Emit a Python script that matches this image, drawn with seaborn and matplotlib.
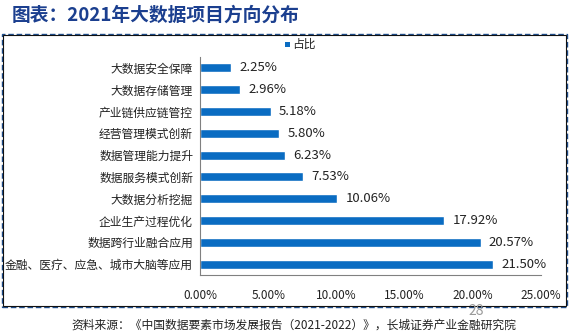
import matplotlib
matplotlib.use("Agg")
import matplotlib.pyplot as plt
import seaborn as sns
import pandas as pd
from matplotlib.patches import Rectangle
from matplotlib.ticker import FuncFormatter, MultipleLocator, FixedLocator

categories = ["大数据安全保障", "大数据存储管理", "产业链供应链管控", "经营管理模式创新",
              "数据管理能力提升", "数据服务模式创新", "大数据分析挖掘", "企业生产过程优化",
              "数据跨行业融合应用", "金融、医疗、应急、城市大脑等应用"]
values = [2.25, 2.96, 5.18, 5.80, 6.23, 7.53, 10.06, 17.92, 20.57, 21.50]
series_name = "占比"
title = "图表：2021年大数据项目方向分布"
source = "资料来源：《中国数据要素市场发展报告（2021-2022）》，长城证券产业金融研究院"
page = "28"

sns.set_theme(style="white")
plt.rcParams['font.family'] = ['Noto Sans CJK SC', 'DejaVu Sans']

df = pd.DataFrame({"cat": categories, "val": values, "s": series_name})

fig = plt.figure(figsize=(5.75, 3.35), dpi=100)
fig.patch.set_facecolor("white")
ax = fig.add_axes([200/575, 60/335, 341/575, 218/335])

bar_color = "#0A6CC2"
sns.barplot(data=df, y="cat", x="val", hue="s", palette=[bar_color], orient="h",
            width=0.42, saturation=1, ax=ax, legend=False)

ax.set_xlim(0, 25)
ax.set_ylim(9.5, -0.5)
ax.xaxis.set_major_locator(MultipleLocator(5))
ax.xaxis.set_major_formatter(FuncFormatter(lambda v, p: f"{v:.2f}%"))
ax.set_xlabel("")
ax.set_ylabel("")

for i, v in enumerate(values):
    ax.annotate(f"{v:.2f}%", xy=(v, i), xytext=(6, 0), textcoords="offset points",
                va="center", ha="left", fontsize=9.5, color="#222222")

for s in ["top", "right"]:
    ax.spines[s].set_visible(False)
for s in ["left", "bottom"]:
    ax.spines[s].set_color("#808080")
    ax.spines[s].set_linewidth(0.8)

ax.tick_params(axis="x", which="major", direction="out", length=4, width=0.8,
               color="#808080", labelsize=8.5, labelcolor="#222222", pad=6)
ax.tick_params(axis="y", which="major", length=0, labelsize=8.5, labelcolor="#222222", pad=5)
ax.yaxis.set_minor_locator(FixedLocator([i - 0.5 for i in range(len(categories) + 1)]))
ax.tick_params(axis="y", which="minor", direction="out", length=4, width=0.8, color="#808080")

# legend
fig.patches.append(Rectangle((285/575, (335-47)/335), 5/575, 5/335, transform=fig.transFigure,
                             facecolor=bar_color, edgecolor="none"))
fig.text(292/575, (335-44)/335, series_name, fontsize=8.5, va="center", ha="left", color="#222222")

# frame
fig.patches.append(Rectangle((2/575, 28/335), 565/575, 273/335, transform=fig.transFigure,
                             facecolor="none", edgecolor="#1F4E8C", linestyle=(0, (4, 2)), linewidth=1.0))
fig.patches.append(Rectangle((3/575, 29/335), 563/575, 271/335, transform=fig.transFigure,
                             facecolor="none", edgecolor="#111111", linewidth=0.8))

fig.text(12/575, (335-15)/335, title, fontsize=13.5, fontweight="bold", color="#1B3F8F",
         va="center", ha="left")
fig.text(294/575, (335-325)/335, source, fontsize=8.5, color="#222222", va="center", ha="center")
fig.text(476/575, (335-311)/335, page, fontsize=10, color="#9A9A9A", va="center", ha="center")

fig.savefig("out.png", dpi=100)
